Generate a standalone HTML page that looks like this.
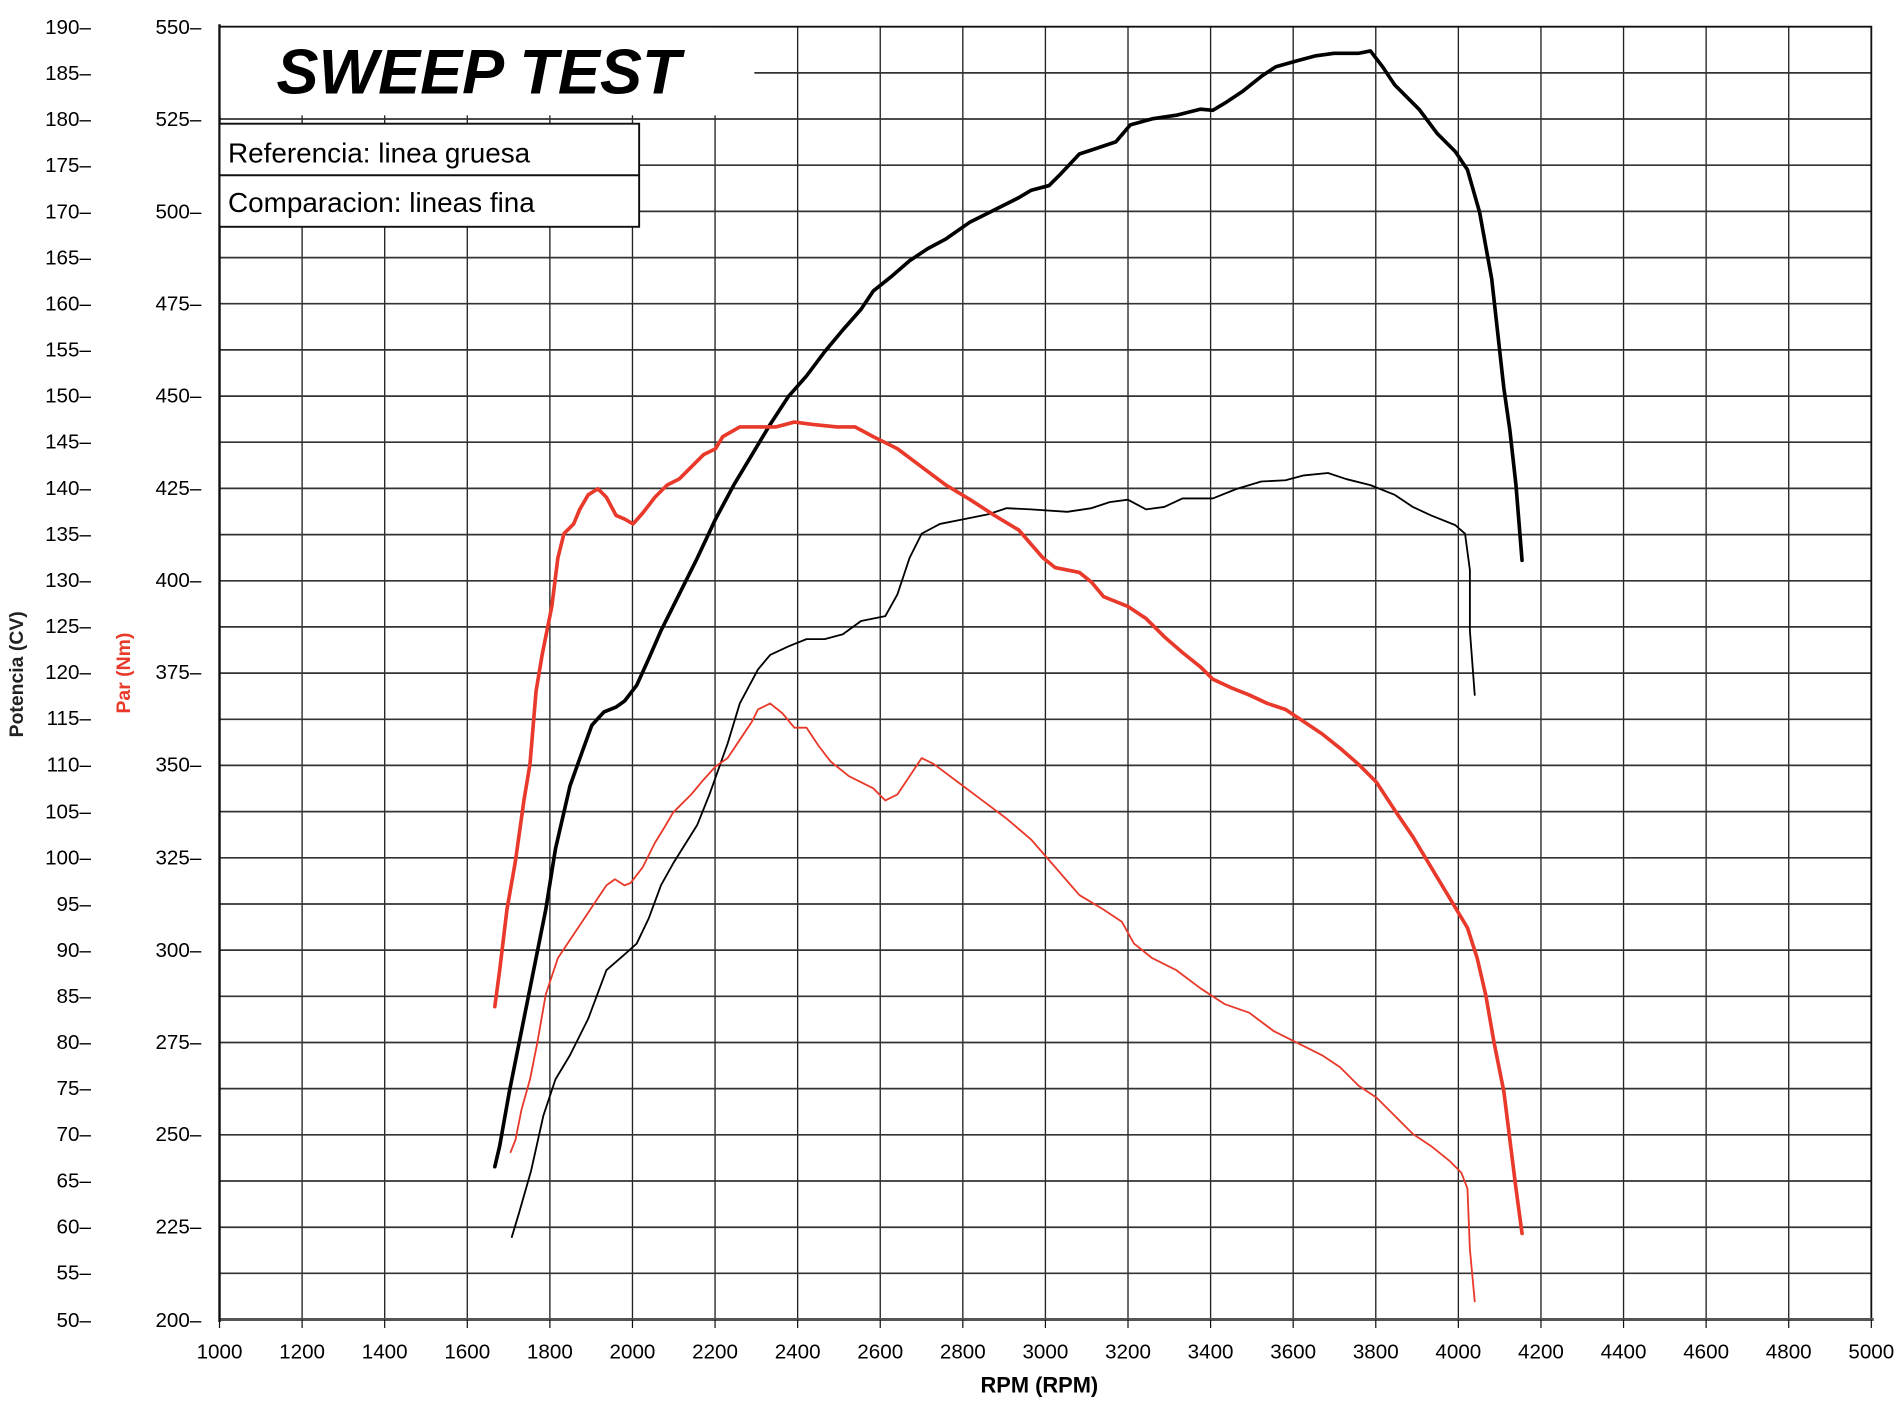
<!DOCTYPE html>
<html><head><meta charset="utf-8"><style>
html,body{margin:0;padding:0;background:#fff;}
svg{display:block;}
text{font-family:"Liberation Sans",Arial,sans-serif;}
</style></head><body>
<svg width="1898" height="1402" viewBox="0 0 1565 1156" preserveAspectRatio="none" xmlns="http://www.w3.org/2000/svg">
<rect width="1565" height="1156" fill="#fff"/>
<g stroke="#222" stroke-width="1.1" fill="none">
<!-- vertical grid -->
<path d="M249.1 95V1088M317.2 95V1088M385.3 95V1088M453.4 95V1088M521.5 95V1088M589.6 95V1088M657.7 22V1088M725.8 22V1088M793.9 22V1088M862 22V1088M930.1 22V1088M998.2 22V1088M1066.3 22V1088M1134.4 22V1088M1202.5 22V1088M1270.6 22V1088M1338.7 22V1088M1406.8 22V1088M1474.9 22V1088M1543 22V1088"/>
</g>
<g stroke="#333" stroke-width="1.4" fill="none">
<path id="hg" d="M622 60.1H1543M181 98.1H1543M181 136.2H1543M181 174.3H1543M181 212.4H1543M181 250.4H1543M181 288.5H1543M181 326.6H1543M181 364.6H1543M181 402.7H1543M181 440.8H1543M181 478.9H1543M181 516.9H1543M181 555H1543M181 593.1H1543M181 631.1H1543M181 669.2H1543M181 707.3H1543M181 745.4H1543M181 783.4H1543M181 821.5H1543M181 859.6H1543M181 897.6H1543M181 935.7H1543M181 973.8H1543M181 1011.9H1543M181 1049.9H1543"/>
</g>
<path d="M181 22H1543V1088" stroke="#111" stroke-width="1.5" fill="none"/>
<path d="M181 1088H1545" stroke="#555" stroke-width="2.5"/>
<path d="M181 20V1090" stroke="#111" stroke-width="2"/>
<!-- title area mask -->
<rect x="182" y="23" width="408" height="72" fill="#fff"/>
<text x="228" y="77" font-size="52" font-weight="bold" font-style="italic" fill="#000">SWEEP TEST</text>
<!-- legend -->
<rect x="181" y="102" width="346" height="85" fill="#fff" stroke="#111" stroke-width="1.6"/>
<path d="M181 144.5H527" stroke="#111" stroke-width="1.6"/>
<text x="188" y="134" font-size="23" fill="#000">Referencia: linea gruesa</text>
<text x="188" y="175" font-size="23" fill="#000">Comparacion: lineas fina</text>
<!-- x ticks -->
<g stroke="#111" stroke-width="1"><path d="M181 1088v7M249.1 1088v7M317.2 1088v7M385.3 1088v7M453.4 1088v7M521.5 1088v7M589.6 1088v7M657.7 1088v7M725.8 1088v7M793.9 1088v7M862 1088v7M930.1 1088v7M998.2 1088v7M1066.3 1088v7M1134.4 1088v7M1202.5 1088v7M1270.6 1088v7M1338.7 1088v7M1406.8 1088v7M1474.9 1088v7M1543 1088v7"/></g>
<g font-size="17" text-anchor="middle" fill="#000">
<text x="181" y="1120">1000</text><text x="249.1" y="1120">1200</text><text x="317.2" y="1120">1400</text><text x="385.3" y="1120">1600</text><text x="453.4" y="1120">1800</text><text x="521.5" y="1120">2000</text><text x="589.6" y="1120">2200</text><text x="657.7" y="1120">2400</text><text x="725.8" y="1120">2600</text><text x="793.9" y="1120">2800</text><text x="862" y="1120">3000</text><text x="930.1" y="1120">3200</text><text x="998.2" y="1120">3400</text><text x="1066.3" y="1120">3600</text><text x="1134.4" y="1120">3800</text><text x="1202.5" y="1120">4000</text><text x="1270.6" y="1120">4200</text><text x="1338.7" y="1120">4400</text><text x="1406.8" y="1120">4600</text><text x="1474.9" y="1120">4800</text><text x="1543" y="1120">5000</text>
</g>
<text x="857" y="1148" font-size="18" font-weight="bold" text-anchor="middle">RPM (RPM)</text>
<!-- power labels -->
<g font-size="17" text-anchor="end" fill="#000">
<text x="75" y="28">190–</text><text x="75" y="66">185–</text><text x="75" y="104">180–</text><text x="75" y="142">175–</text><text x="75" y="180">170–</text><text x="75" y="218">165–</text><text x="75" y="256">160–</text><text x="75" y="294">155–</text><text x="75" y="332">150–</text><text x="75" y="370">145–</text><text x="75" y="408">140–</text><text x="75" y="446">135–</text><text x="75" y="484">130–</text><text x="75" y="522">125–</text><text x="75" y="560">120–</text><text x="75" y="598">115–</text><text x="75" y="636">110–</text><text x="75" y="675">105–</text><text x="75" y="713">100–</text><text x="75" y="751">95–</text><text x="75" y="789">90–</text><text x="75" y="827">85–</text><text x="75" y="865">80–</text><text x="75" y="903">75–</text><text x="75" y="941">70–</text><text x="75" y="979">65–</text><text x="75" y="1017">60–</text><text x="75" y="1055">55–</text><text x="75" y="1094">50–</text>
</g>
<g font-size="17" text-anchor="end" fill="#000">
<text x="166" y="28">550–</text><text x="166" y="104">525–</text><text x="166" y="180">500–</text><text x="166" y="256">475–</text><text x="166" y="332">450–</text><text x="166" y="408">425–</text><text x="166" y="484">400–</text><text x="166" y="560">375–</text><text x="166" y="636">350–</text><text x="166" y="713">325–</text><text x="166" y="789">300–</text><text x="166" y="865">275–</text><text x="166" y="941">250–</text><text x="166" y="1017">225–</text><text x="166" y="1094">200–</text>
</g>
<text transform="translate(19,556) rotate(-90)" font-size="16" font-weight="bold" text-anchor="middle" fill="#222">Potencia (CV)</text>
<text transform="translate(107,555) rotate(-90)" font-size="16" font-weight="bold" text-anchor="middle" fill="#e8392a">Par (Nm)</text>
<!-- curves -->
<g fill="none" stroke-linejoin="round" stroke-linecap="round">
<polyline stroke="#000" stroke-width="1.5" points="422,1020 428,1000 438,965 448,920 458,890 470,870 485,840 500,800 515,787 525,778 535,757 545,730 555,712 575,680 585,655 600,613 610,580 625,552 635,540 650,533 665,527 680,527 695,523 710,512 730,508 740,490 750,460 760,440 775,432 795,428 815,424 830,419 850,420 880,422 900,419 915,414 930,412 945,420 960,418 975,411 1000,411 1020,403 1040,397 1060,396 1075,392 1095,390 1110,395 1130,400 1150,408 1165,418 1180,425 1200,433 1208,440 1212,470 1212,520 1216,573"/>
<polyline stroke="#e8392a" stroke-width="1.5" points="421,950 425,940 430,915 437,890 443,860 450,820 460,790 470,775 480,760 490,745 500,730 507,725 515,730 520,728 530,715 540,695 548,682 555,670 570,655 580,643 590,632 600,625 610,610 620,595 625,585 635,580 645,588 655,600 665,600 675,615 685,628 700,640 720,650 730,660 740,655 750,640 760,625 770,630 790,645 810,660 830,675 850,692 870,715 890,738 910,750 925,760 935,778 950,790 970,800 990,815 1010,828 1030,835 1050,850 1070,860 1090,870 1105,880 1120,895 1135,905 1150,920 1165,935 1180,945 1195,957 1205,967 1210,980 1212,1030 1216,1073"/>
<polyline stroke="#000" stroke-width="3" points="408,962 412,945 420,900 430,850 440,800 450,750 458,700 470,648 480,620 488,598 498,587 508,583 515,578 525,565 535,543 545,520 560,490 575,460 590,428 605,400 620,375 635,350 650,327 665,310 680,290 695,272 710,255 720,240 735,228 750,215 765,205 780,197 800,183 820,173 840,163 850,157 865,153 875,143 890,127 905,122 920,117 932,103 950,98 970,95 990,90 1000,91 1010,85 1025,75 1040,63 1052,55 1070,50 1085,46 1100,44 1120,44 1130,42 1140,55 1150,70 1170,90 1185,110 1200,125 1210,140 1220,175 1230,230 1240,320 1245,355 1250,400 1255,462"/>
<polyline stroke="#e8392a" stroke-width="3" points="408,830 412,800 418,750 425,710 432,660 437,630 442,570 447,540 455,500 460,460 465,440 473,432 478,420 485,408 493,403 500,410 508,425 515,428 522,432 530,423 540,410 550,400 560,395 570,385 580,375 590,370 596,360 610,352 625,352 640,352 655,348 670,350 690,352 705,352 720,360 740,370 760,385 780,400 800,412 820,425 840,437 860,460 870,468 890,472 900,480 910,492 930,500 945,510 960,525 975,538 990,550 1000,560 1015,567 1030,573 1045,580 1060,585 1075,595 1090,605 1105,617 1120,630 1135,645 1150,668 1165,690 1180,715 1195,740 1210,765 1218,790 1225,820 1232,860 1240,900 1245,940 1250,980 1255,1017"/>
</g>
</svg>
</body></html>
